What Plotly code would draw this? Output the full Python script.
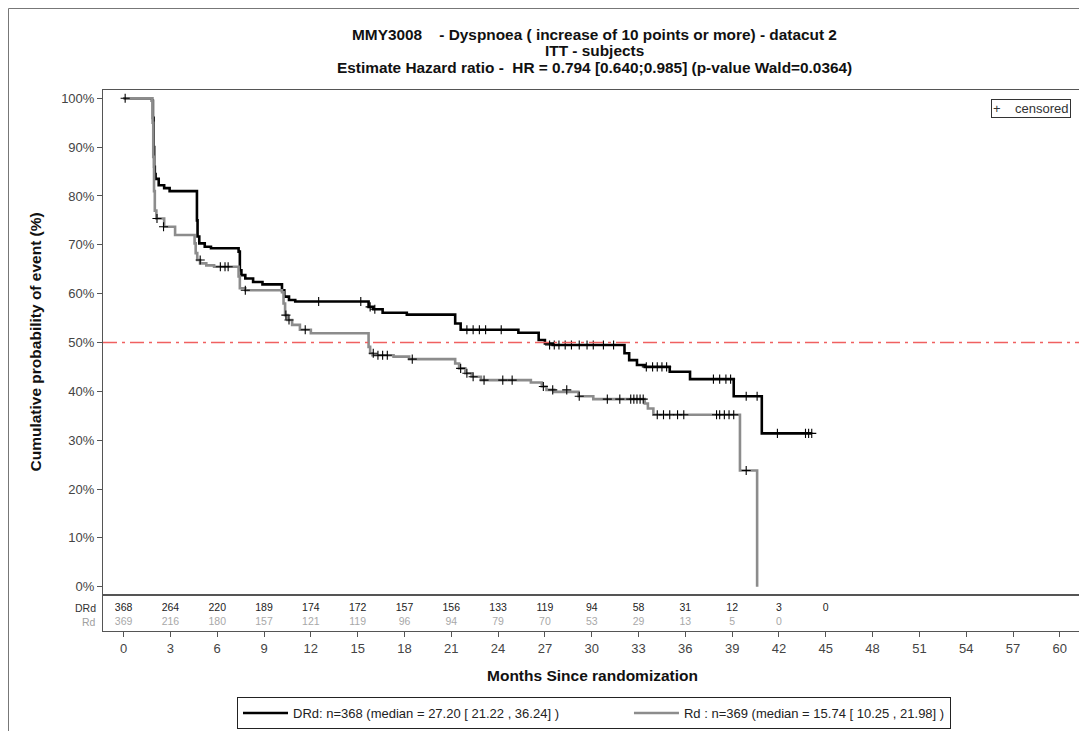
import plotly.graph_objects as go

# ---------------- data ----------------
drd_time = [0, 1.82, 1.88, 1.92, 1.96, 2.0, 2.05, 2.25, 2.6, 2.95, 4.70, 4.74, 4.85, 5.2, 5.6,
            7.37, 7.45, 7.55, 7.8, 8.3, 8.9, 10.15, 10.3, 10.6, 11.0, 15.7, 16.0, 16.6, 18.15,
            21.25, 21.6, 25.3, 26.6, 27.0, 27.5, 32.1, 32.4, 32.9, 33.4, 35.0, 36.3, 39.1, 40.9, 44.1]
drd_cum = [100, 99.5, 96, 90, 86, 84.5, 83.5, 82.2, 81.6, 81.0, 75, 71.7, 70.3, 69.6, 69.3,
           68.6, 64.8, 63.8, 63.1, 62.4, 61.9, 60.7, 59.4, 58.7, 58.4, 57.3, 56.8, 56.1, 55.7,
           53.9, 52.6, 52.0, 50.5, 49.8, 49.5, 47.8, 46.4, 45.4, 45.0, 44.0, 42.5, 39.0, 31.4, 31.4]

rd_time = [0, 1.82, 1.86, 1.9, 1.95, 2.0, 2.1, 2.6, 3.3, 4.55, 4.62, 4.72, 4.9, 5.3, 5.8,
           7.37, 7.45, 7.8, 10.15, 10.25, 10.35, 10.5, 10.8, 11.3, 12.0, 15.7, 15.8, 15.95, 17.3, 18.3,
           21.25, 21.5, 21.9, 22.3, 22.9, 26.1, 26.8, 27.1, 27.6, 29.15, 30.1, 33.4, 33.6, 33.95,
           39.5, 40.6]
rd_cum = [100, 99.5, 95, 88, 81, 77, 75.4, 73.7, 72.0, 70.3, 68.3, 66.9, 66.2, 65.8, 65.5,
          63.5, 61.1, 60.7, 60.3, 58.0, 55.6, 54.6, 53.6, 52.6, 51.9, 49.1, 47.8, 47.4, 47.1, 46.6,
          45.7, 44.7, 43.7, 43.0, 42.3, 41.8, 41.0, 40.3, 39.9, 39.0, 38.4, 37.5, 36.5, 35.2,
          23.8, 0.0]

drd_cens_time = [0.1, 12.5, 15.2, 15.8, 16.1, 22.0, 22.4, 22.8, 23.2, 24.2, 27.3, 27.6, 27.9, 28.3,
                 28.7, 29.2, 29.7, 30.1, 30.75, 31.4, 33.5, 33.9, 34.2, 34.5, 34.8, 37.8, 38.2,
                 38.6, 38.9, 39.9, 40.6, 41.9, 43.7, 43.9, 44.1]
drd_cens_cum = [100, 58.4, 58.4, 57.3, 56.8, 52.6, 52.6, 52.6, 52.6, 52.6, 49.5, 49.5, 49.5, 49.5,
                49.5, 49.5, 49.5, 49.5, 49.5, 49.5, 45.0, 45.0, 45.0, 45.0, 45.0, 42.5, 42.5,
                42.5, 42.5, 39.0, 39.0, 31.4, 31.4, 31.4, 31.4]

rd_cens_time = [2.14, 2.56, 4.91, 6.2, 6.5, 6.7, 7.8, 10.4, 10.6, 11.64, 16.0, 16.3, 16.6, 16.9, 18.5,
                21.6, 22.0, 22.4, 23.1, 24.3, 24.9, 26.9, 27.5, 28.4, 29.2, 31.0, 31.8, 32.5, 32.7,
                32.9, 33.1, 33.3, 34.2, 34.6, 35.0, 35.5, 35.9, 38.0, 38.2, 38.5, 38.8, 39.1, 39.9]
rd_cens_cum = [75.4, 73.7, 66.9, 65.5, 65.5, 65.5, 60.7, 55.6, 54.6, 52.6, 47.8, 47.4, 47.4, 47.4, 46.6,
               44.7, 43.7, 43.0, 42.3, 42.3, 42.3, 41.0, 40.3, 40.3, 39.0, 38.4, 38.4, 38.4, 38.4,
               38.4, 38.4, 38.4, 35.2, 35.2, 35.2, 35.2, 35.2, 35.2, 35.2, 35.2, 35.2, 35.2, 23.8]

risk_months = [0, 3, 6, 9, 12, 15, 18, 21, 24, 27, 30, 33, 36, 39, 42, 45]
drd_at_risk = [368, 264, 220, 189, 174, 172, 157, 156, 133, 119, 94, 58, 31, 12, 3, 0]
rd_at_risk = [369, 216, 180, 157, 121, 119, 96, 94, 79, 70, 53, 29, 13, 5, 0]

x_ticks = list(range(0, 61, 3))
y_ticks = list(range(0, 101, 10))
y_ticktext = [f"{v}%" for v in y_ticks]
median_ref = 50

drd_name = "DRd: n=368 (median = 27.20 [ 21.22 , 36.24] )"
rd_name = "Rd : n=369 (median = 15.74 [ 10.25 , 21.98] )"
title_lines = ["MMY3008\u00a0\u00a0\u00a0 - Dyspnoea ( increase of 10 points or more) - datacut 2",
               "ITT - subjects",
               "Estimate Hazard ratio -\u00a0 HR = 0.794 [0.640;0.985] (p-value Wald=0.0364)"]

# ---------------- figure ----------------
# page body has an 8px margin: work in reference-image pixel coordinates and shift
OFF = 8
W, H = 1087 - OFF, 731 - OFF
ML, MR, MT, MB = 103 - OFF, 5, 90 - OFF, 100
PH = H - MT - MB
PW = W - ML - MR
TABLE_H = 36
FONT = "Liberation Sans, Arial, sans-serif"
NARROW = "Liberation Sans Narrow, Arial Narrow, Liberation Sans, Arial, sans-serif"
GRAY = "#8c8c8c"
AX = "#555555"


def py(p):
    return (H - MB - (p - OFF)) / PH


def px(p):
    return (p - OFF - ML) / PW


fig = go.Figure()

fig.add_trace(go.Scatter(x=drd_time, y=drd_cum, mode="lines", line=dict(color="black", width=2.6, shape="hv"),
                         name=drd_name + "\u2003" * 5, xaxis="x2", yaxis="y"))
fig.add_trace(go.Scatter(x=rd_time, y=rd_cum, mode="lines", line=dict(color=GRAY, width=2.6, shape="hv"),
                         name=rd_name, xaxis="x2", yaxis="y"))
for t, c in [(drd_cens_time, drd_cens_cum), (rd_cens_time, rd_cens_cum)]:
    fig.add_trace(go.Scatter(x=t, y=c, mode="markers", showlegend=False, xaxis="x2", yaxis="y",
                             marker=dict(symbol="cross-thin", size=6.5, color="black",
                                         line=dict(color="black", width=1.1))))

fig.add_trace(go.Scatter(x=risk_months, y=[0.64] * len(risk_months), mode="text",
                         text=[str(v) for v in drd_at_risk], showlegend=False, xaxis="x", yaxis="y2",
                         textfont=dict(family=FONT, size=10.5, color="#222222")))
fig.add_trace(go.Scatter(x=risk_months[:len(rd_at_risk)], y=[0.25] * len(rd_at_risk), mode="text",
                         text=[str(v) for v in rd_at_risk], showlegend=False, xaxis="x", yaxis="y2",
                         textfont=dict(family=FONT, size=10.5, color="#a8a8a8")))

dom = TABLE_H / PH
xr = [-1.32, 61.42]
fig.update_layout(
    width=W, height=H,
    margin=dict(l=ML, r=MR, t=MT, b=MB, autoexpand=False),
    paper_bgcolor="white", plot_bgcolor="white",
    font=dict(family=FONT, color="#333333"),
    xaxis=dict(domain=[0, 1], anchor="y2", range=xr, tickvals=x_ticks, ticks="outside", ticklen=5,
               tickcolor=AX, showline=True, linecolor=AX, linewidth=1, mirror=True, showgrid=False,
               zeroline=False, tickfont=dict(family=FONT, size=13, color="#444444")),
    xaxis2=dict(domain=[0, 1], anchor="y", matches="x", range=xr, showticklabels=False, ticks="",
                showline=True, linecolor=AX, linewidth=1, mirror=True, showgrid=False, zeroline=False),
    yaxis=dict(domain=[dom, 1], anchor="x2", range=[-1.7, 101.7], tickvals=y_ticks, ticktext=y_ticktext,
               ticks="outside", ticklen=5, tickcolor=AX, showline=True, linecolor=AX, linewidth=1,
               mirror=True, showgrid=False, zeroline=False,
               tickfont=dict(family=FONT, size=13, color="#444444")),
    yaxis2=dict(domain=[0, dom], anchor="x", range=[0, 1], showticklabels=False, ticks="",
                showline=True, linecolor=AX, linewidth=1, mirror=True, showgrid=False, zeroline=False),
    showlegend=True,
    legend=dict(orientation="h", x=px(594), xanchor="center", y=py(697), yanchor="top",
                bordercolor="#222222", borderwidth=1, bgcolor="white",
                font=dict(family=NARROW, size=13, color="#222222"), itemwidth=45,
                tracegroupgap=0),
)

fig.add_shape(type="line", xref="x2 domain", x0=0, x1=1, yref="y", y0=median_ref, y1=median_ref,
              line=dict(color="#f06060", width=1.5, dash="14px,5px,3px,5px"))
# outer frame (left and top edges visible)
fig.add_shape(type="rect", xref="paper", yref="paper", x0=px(8.5), x1=px(1100), y0=py(745), y1=py(8.5),
              line=dict(color="#777777", width=1))

for txt, yy in zip(title_lines, [34, 51, 68]):
    fig.add_annotation(text=f"<b>{txt}</b>", xref="paper", yref="paper", x=px(594), y=py(yy),
                       xanchor="center", yanchor="middle", showarrow=False,
                       font=dict(family=FONT, size=15.4, color="#111111"))

fig.add_annotation(text="<b>Cumulative probability of event (%)</b>", xref="paper", yref="y domain",
                   x=px(35), y=0.5, textangle=-90, xanchor="center", yanchor="middle", showarrow=False,
                   font=dict(family=FONT, size=15.5, color="#111111"))
fig.add_annotation(text="<b>Months Since randomization</b>", xref="paper", yref="paper",
                   x=px(592), y=py(675), xanchor="center", yanchor="middle", showarrow=False,
                   font=dict(family=FONT, size=15.5, color="#111111"))

fig.add_annotation(text="DRd", xref="paper", yref="y2", x=px(98), y=0.64, xanchor="right",
                   yanchor="middle", showarrow=False, font=dict(family=FONT, size=10.5, color="#333333"))
fig.add_annotation(text="Rd", xref="paper", yref="y2", x=px(98), y=0.25, xanchor="right",
                   yanchor="middle", showarrow=False, font=dict(family=FONT, size=10.5, color="#a0a0a0"))

fig.add_annotation(text="+    censored", xref="paper", yref="paper", x=px(1071), y=py(99),
                   xanchor="right", yanchor="top", showarrow=False, bordercolor="#333333", borderwidth=1,
                   borderpad=1, bgcolor="white", font=dict(family=FONT, size=13, color="#333333"))

fig.write_html("out.html")
